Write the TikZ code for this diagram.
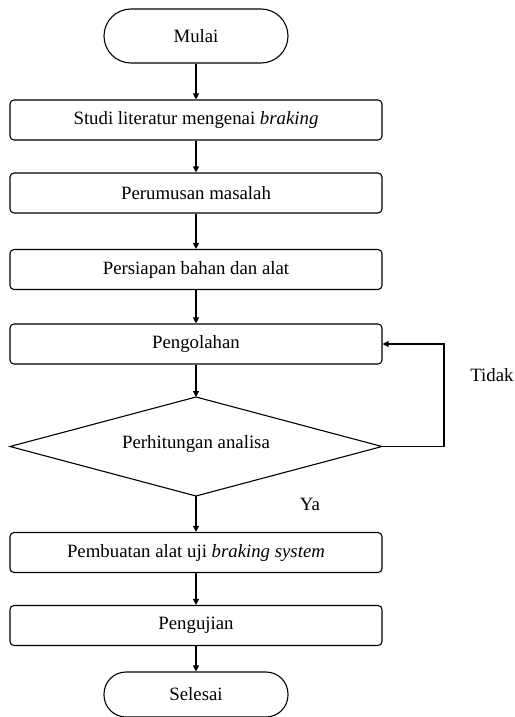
\documentclass[tikz,border=0pt]{standalone}
\usepackage{fontspec}
\setmainfont{Liberation Serif}
\usetikzlibrary{arrows.meta}
\begin{document}
\begin{tikzpicture}[x=1pt,y=-1pt,
  every node/.style={font=\fontsize{18.8}{21}\selectfont},
  procbox/.style={draw,line width=1.1pt,rounded corners=4pt,minimum width=372pt,minimum height=40pt,inner sep=0pt},
  termbox/.style={draw,line width=1.1pt,rounded corners=22pt,minimum width=184pt,minimum height=45pt,inner sep=0pt},
  decline/.style={draw,line width=1.1pt,line join=miter},
  flow/.style={line width=1.1pt,-{Triangle[length=6pt,width=6pt]}},
  lbl/.style={inner sep=0pt}]
\useasboundingbox (0,0) rectangle (514,717);
\node[termbox,minimum height=54pt,rounded corners=27pt] (start) at (196,36) {Mulai};
\node[procbox] (studi) at (196,120) {Studi literatur mengenai \textit{braking}};
\node[procbox] (rumus) at (196,193) {Perumusan masalah};
\node[procbox] (siap) at (196,269.5) {Persiapan bahan dan alat};
\node[procbox] (olah) at (196,344) {Pengolahan};
\coordinate (dtop) at (196,397);
\coordinate (dright) at (382,446.5);
\coordinate (dbot) at (196,496);
\coordinate (dleft) at (10,446.5);
\draw[decline] (dtop) -- (dright) -- (dbot) -- (dleft) -- cycle;
\node[lbl] (hitung) at (196,444) {Perhitungan analisa};
\node[procbox] (buat) at (196,552.5) {Pembuatan alat uji \textit{braking system}};
\node[procbox] (uji) at (196,625.5) {Pengujian};
\node[termbox] (end) at (196,694.5) {Selesai};
\node[lbl] (tidak) at (492,375) {Tidak};
\node[lbl] (ya) at (310,504) {Ya};
\draw[flow] (start) -- (studi);
\draw[flow] (studi) -- (rumus);
\draw[flow] (rumus) -- (siap);
\draw[flow] (siap) -- (olah);
\draw[flow] (olah) -- (dtop);
\draw[flow] (dbot) -- (buat);
\draw[flow] (buat) -- (uji);
\draw[flow] (uji) -- (end);
\coordinate (loop) at (444,446.5);
\draw[flow] (dright) -- (loop) |- (olah.east);
\end{tikzpicture}
\end{document}
